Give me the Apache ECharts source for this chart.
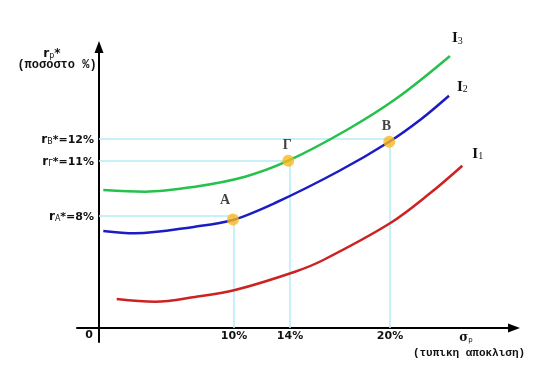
<!DOCTYPE html>
<html>
<head>
<meta charset="utf-8">
<script src="https://cdn.jsdelivr.net/npm/echarts@6/dist/echarts.min.js"></script>
<style>html,body{margin:0;padding:0;background:#fff}#c{width:547px;height:378px}</style>
</head>
<body>
<div id="c"></div>
<script>
// Schematic drawing units (the original sketch has no linear scale)
const curveNames = ['I1', 'I2', 'I3'];
const curveI1 = [[1.77,2.9],[5.6,2.63],[9.6,3.1],[13.6,3.8],[19.6,5.63],[22.43,6.8],[29.1,10.47],[33.1,13.47],[36.33,16.23]];
const curveI2 = [[0.43,9.7],[3.6,9.47],[9.6,10.13],[13.37,10.8],[17.6,12.5],[24,15.7],[29.03,18.63],[32.1,20.8],[35.0,23.23]];
const curveI3 = [[0.43,13.8],[4.6,13.63],[9.6,14.13],[14.6,15.13],[18.93,16.73],[24.77,19.8],[29.77,22.97],[35.1,27.2]];

const pointNames = ['A', 'Γ', 'B'];
const pointX = [13.4, 18.93, 29.03];
const pointY = [10.85, 16.73, 18.63];

const xTickPos = [13.5, 19.1, 29.1];
const xTickLabels = ['10%', '14%', '20%'];
const yTickPos = [11.2, 16.75, 18.9];
const yTickSubs = ['A', 'Γ', 'B'];
const yTickLabels = ['8%', '11%', '12%'];

const chart = echarts.init(document.getElementById('c'), null, {renderer: 'canvas'});

const axisLineStyle = {color: '#000', width: 2};
const guideData = xTickPos.map((x, i) => ({coords: [[x, 0], [x, yTickPos[i]]]}))
  .concat(yTickPos.map((y, i) => ({coords: [[0, y], [xTickPos[i], y]]})));

const colors = ['#cc2222', '#1c1cc4', '#26c04c'];
const endOffsets = [[2, -12], [0, -9], [-6, -18]];
const curves = [curveI1, curveI2, curveI3];
const subs = ['1', '2', '3'];

const labelOffsets = [[-8, -4], [-1, 0], [-3, 0]];
const txt = '#111';

const option = {
  animation: false,
  backgroundColor: '#fff',
  grid: {left: 77, right: 33, top: 47, bottom: 36},
  xAxis: {
    type: 'value', min: -2.2, max: 41.5,
    axisLine: {onZero: true, symbol: ['none', 'triangle'], symbolSize: [9, 12], lineStyle: axisLineStyle},
    axisTick: {show: false}, splitLine: {show: false},
    axisLabel: {
      customValues: xTickPos, margin: -11,
      formatter: v => { const i = xTickPos.findIndex(p => Math.abs(p - v) < 1e-6); return i >= 0 ? xTickLabels[i] : ''; },
      color: txt, fontFamily: 'DejaVu Sans', fontWeight: 'bold', fontSize: 11
    }
  },
  yAxis: {
    type: 'value', min: -1.4, max: 28.1,
    axisLine: {onZero: true, symbol: ['none', 'triangle'], symbolSize: [9, 12], lineStyle: axisLineStyle},
    axisTick: {show: false}, splitLine: {show: false},
    axisLabel: {
      customValues: yTickPos, margin: -17,
      formatter: v => { const i = yTickPos.findIndex(p => Math.abs(p - v) < 1e-6); return i >= 0 ? '{r|r}{s|' + yTickSubs[i] + '}{t|*=' + yTickLabels[i] + '}' : ''; },
      rich: {
        r: {fontFamily: 'DejaVu Sans', fontWeight: 'bold', fontSize: 12, color: txt, verticalAlign: 'bottom', lineHeight: 14},
        s: {fontFamily: 'DejaVu Sans', fontSize: 8, color: txt, verticalAlign: 'bottom', lineHeight: 13},
        t: {fontFamily: 'DejaVu Sans', fontWeight: 'bold', fontSize: 11, color: txt, verticalAlign: 'bottom', lineHeight: 14}
      }
    }
  },
  series: [
    {
      type: 'lines', coordinateSystem: 'cartesian2d', silent: true, z: 1,
      lineStyle: {color: '#b4ecf4', width: 1.5, opacity: 1},
      data: guideData
    }
  ].concat(curves.map((c, i) => ({
    type: 'line', name: curveNames[i], data: c, smooth: 0.35, showSymbol: false, z: 3,
    lineStyle: {color: colors[i], width: 2.5},
    endLabel: {
      show: true, formatter: '{i|I}{s|' + subs[i] + '}', offset: endOffsets[i],
      rich: {
        i: {fontFamily: 'Liberation Serif', fontWeight: 'bold', fontSize: 15, color: txt, verticalAlign: 'bottom', lineHeight: 16},
        s: {fontFamily: 'Liberation Serif', fontSize: 10, color: txt, verticalAlign: 'bottom', lineHeight: 14}
      }
    }
  }))).concat([{
    type: 'scatter', z: 5, symbolSize: 12,
    itemStyle: {color: '#fbb61e'},
    data: pointNames.map((n, i) => ({
      value: [pointX[i], pointY[i]], name: n,
      label: {show: true, position: 'top', distance: 2, offset: labelOffsets[i], formatter: n,
        fontFamily: 'Liberation Serif', fontWeight: 'bold', fontSize: 14, color: txt}
    }))
  }]),
  graphic: [
    {type: 'text', x: 89, y: 335, style: {text: '0', fontFamily: 'DejaVu Sans', fontWeight: 'bold', fontSize: 11, fill: txt, align: 'center', verticalAlign: 'middle'}},
    {type: 'text', x: 52, y: 51, style: {text: '{r|r}{s|p}{a|*}', align: 'center', verticalAlign: 'middle',
      rich: {
        r: {fontFamily: 'DejaVu Sans', fontWeight: 'bold', fontSize: 12, fill: txt, verticalAlign: 'bottom', lineHeight: 14},
        s: {fontFamily: 'DejaVu Sans', fontSize: 8, fill: txt, verticalAlign: 'bottom', lineHeight: 13},
        a: {fontFamily: 'DejaVu Sans', fontWeight: 'bold', fontSize: 12, fill: txt, verticalAlign: 'bottom', lineHeight: 17}
      }}},
    {type: 'text', x: 57, y: 65, style: {text: '(ποσοστο %)', fontFamily: 'Liberation Mono', fontWeight: 'bold', fontSize: 12, fill: txt, align: 'center', verticalAlign: 'middle'}},
    {type: 'text', x: 466, y: 337, style: {text: '{r|σ}{s|p}', align: 'center', verticalAlign: 'middle',
      rich: {
        r: {fontFamily: 'DejaVu Serif', fontWeight: 'bold', fontSize: 12, fill: txt, verticalAlign: 'bottom', lineHeight: 14},
        s: {fontFamily: 'DejaVu Sans', fontSize: 7, fill: txt, verticalAlign: 'bottom', lineHeight: 13}
      }}},
    {type: 'text', x: 469, y: 353, style: {text: '(τυπικη αποκλιση)', fontFamily: 'Liberation Mono', fontWeight: 'bold', fontSize: 11, fill: txt, align: 'center', verticalAlign: 'middle'}}
  ]
};
chart.setOption(option);
</script>
</body>
</html>
